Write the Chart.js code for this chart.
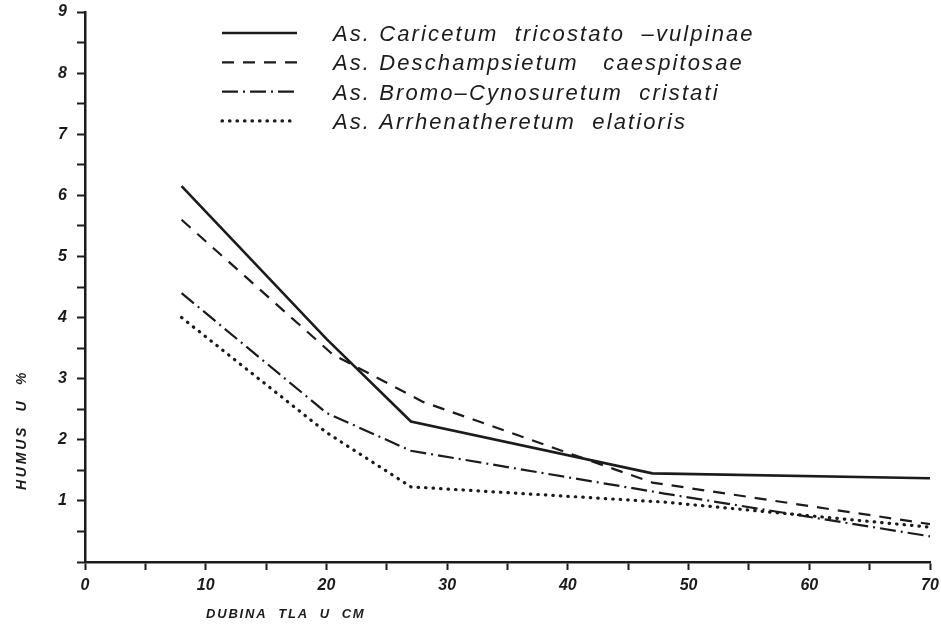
<!DOCTYPE html>
<html>
<head>
<meta charset="utf-8">
<script src="https://cdn.jsdelivr.net/npm/chart.js@4.4.1/dist/chart.umd.min.js"></script>
<style>
html, body { margin: 0; padding: 0; background: #fff; }
#wrap { width: 941px; height: 627px; }
</style>
</head>
<body>
<div id="wrap"><canvas id="humus-chart" width="941" height="627"></canvas></div>
<script>
// Dubina tla (cm) i humus (%) po asocijacijama
const seriesNames = [
    'As. Caricetum  tricostato  \u2013vulpinae',
    'As. Deschampsietum   caespitosae',
    'As. Bromo\u2013Cynosuretum  cristati',
    'As. Arrhenatheretum  elatioris'
];
const depthCaricetum = [8, 20, 27, 47, 70];
const humusCaricetum = [6.15, 3.65, 2.3, 1.45, 1.37];
const depthDeschampsietum = [8, 20.5, 28, 47, 70];
const humusDeschampsietum = [5.6, 3.4, 2.62, 1.3, 0.62];
const depthBromo = [8, 20, 27, 48, 70];
const humusBromo = [4.4, 2.44, 1.82, 1.12, 0.42];
const depthArrhenatheretum = [8, 20, 27, 48, 70];
const humusArrhenatheretum = [4.0, 2.12, 1.23, 0.98, 0.57];

const yAxisTitle = 'HUMUS  U  %';
const xAxisTitle = 'DUBINA  TLA  U  CM';

const ink = '#1b1b1b';
const tickFont = { family: '"Liberation Sans", Arial, sans-serif', size: 16, style: 'italic', weight: 'bold' };

function toPoints(xs, ys) {
    return xs.map((x, i) => ({ x: x, y: ys[i] }));
}

// legenda i naslovi osi crtaju se rukom, kao na originalu
const paperLabels = {
    id: 'paperLabels',
    afterDraw(chart) {
        const ctx = chart.ctx;
        ctx.save();
        chart.data.datasets.forEach((ds, i) => {
            const y = 33 + i * 29.3;
            ctx.beginPath();
            ctx.setLineDash(ds.borderDash || []);
            ctx.lineWidth = ds.borderWidth;
            ctx.lineCap = ds.borderCapStyle || 'butt';
            ctx.strokeStyle = ds.borderColor;
            ctx.moveTo(222, y);
            ctx.lineTo(297, y);
            ctx.stroke();
            ctx.setLineDash([]);
            ctx.fillStyle = ink;
            ctx.font = 'italic 22px "Liberation Sans", Arial, sans-serif';
            ctx.letterSpacing = '2.1px';
            ctx.textAlign = 'left';
            ctx.textBaseline = 'middle';
            ctx.fillText(ds.label, 333, y + 2);
        });

        ctx.font = 'italic bold 13px "Liberation Sans", Arial, sans-serif';
        ctx.letterSpacing = '1.8px';
        ctx.fillStyle = ink;
        ctx.textBaseline = 'middle';
        ctx.textAlign = 'left';
        ctx.fillText(xAxisTitle, 206, 614);

        ctx.font = 'italic bold 14px "Liberation Sans", Arial, sans-serif';
        ctx.letterSpacing = '2.8px';
        ctx.translate(22, 430);
        ctx.rotate(-Math.PI / 2);
        ctx.textAlign = 'center';
        ctx.fillText(yAxisTitle, 0, 0);
        ctx.restore();
    }
};

const ctx = document.getElementById('humus-chart').getContext('2d');
const chart = new Chart(ctx, {
    type: 'line',
    data: {
        datasets: [
            {
                label: seriesNames[0],
                data: toPoints(depthCaricetum, humusCaricetum),
                borderColor: ink,
                borderWidth: 2.6,
                borderDash: []
            },
            {
                label: seriesNames[1],
                data: toPoints(depthDeschampsietum, humusDeschampsietum),
                borderColor: ink,
                borderWidth: 2.2,
                borderDash: [12, 9]
            },
            {
                label: seriesNames[2],
                data: toPoints(depthBromo, humusBromo),
                borderColor: ink,
                borderWidth: 2.2,
                borderDash: [16, 5, 2, 5]
            },
            {
                label: seriesNames[3],
                data: toPoints(depthArrhenatheretum, humusArrhenatheretum),
                borderColor: ink,
                borderWidth: 3.2,
                borderDash: [0.5, 7],
                borderCapStyle: 'round'
            }
        ]
    },
    options: {
        responsive: false,
        animation: false,
        layout: { padding: { top: 12, right: 11, left: 0, bottom: 0 } },
        elements: {
            point: { radius: 0 },
            line: { tension: 0, fill: false }
        },
        plugins: {
            legend: { display: false },
            tooltip: { enabled: false }
        },
        scales: {
            x: {
                type: 'linear',
                min: 0,
                max: 70,
                border: { display: true, color: ink, width: 2.5 },
                grid: { drawOnChartArea: false, drawTicks: true, tickLength: 8, tickWidth: 2, tickColor: ink },
                ticks: {
                    stepSize: 5,
                    autoSkip: false,
                    maxRotation: 0,
                    padding: 6,
                    color: ink,
                    font: tickFont,
                    callback: v => (v % 10 === 0 ? v : '')
                },
                afterFit: s => {
                    s.height = 65;
                    s.paddingLeft = 0;
                    s.paddingRight = 0;
                }
            },
            y: {
                type: 'linear',
                min: 0,
                max: 9,
                border: { display: true, color: ink, width: 2.5 },
                grid: { drawOnChartArea: false, drawTicks: true, tickLength: 8, tickWidth: 2, tickColor: ink },
                ticks: {
                    stepSize: 0.5,
                    autoSkip: false,
                    padding: 10,
                    color: ink,
                    font: tickFont,
                    callback: v => (Number.isInteger(v) && v > 0 ? v : '')
                },
                afterFit: s => {
                    s.width = 85;
                    s.paddingTop = 0;
                    s.paddingBottom = 0;
                }
            }
        }
    },
    plugins: [paperLabels]
});
</script>
</body>
</html>
